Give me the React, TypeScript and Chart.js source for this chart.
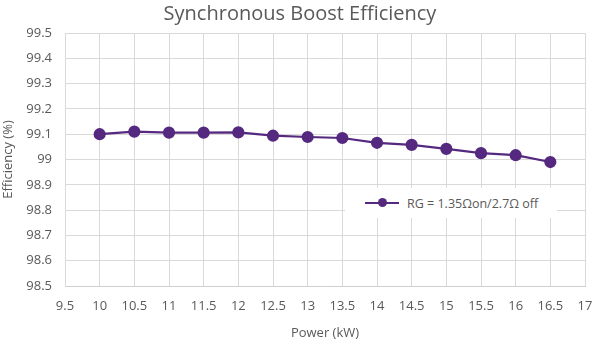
import React, { useEffect, useRef } from "react";
import { Chart, registerables } from "chart.js";

Chart.register(...registerables);

const powerKW = [10, 10.5, 11, 11.5, 12, 12.5, 13, 13.5, 14, 14.5, 15, 15.5, 16, 16.5];
const efficiency = [99.1, 99.11, 99.106, 99.106, 99.107, 99.094, 99.089, 99.085, 99.066, 99.058, 99.042, 99.025, 99.017, 98.99];
const seriesLabel = "RG = 1.35Ωon/2.7Ω off";
const titleText = "Synchronous Boost Efficiency";
const xTitle = "Power (kW)";
const yTitle = "Efficiency (%)";

const FONT = "'Open Sans', 'Liberation Sans', sans-serif";
const PURPLE = "#55297f";
const TEXT = "#595959";
const GRID = "#d9d9d9";

export default function App() {
  const ref = useRef<HTMLCanvasElement | null>(null);

  useEffect(() => {
    if (!ref.current) return;
    const chart = new Chart(ref.current, {
      type: "line",
      data: {
        datasets: [
          {
            label: seriesLabel,
            data: powerKW.map((x, i) => ({ x, y: efficiency[i] })),
            borderColor: PURPLE,
            backgroundColor: PURPLE,
            borderWidth: 2.2,
            pointRadius: 5,
            pointBackgroundColor: PURPLE,
            pointBorderColor: PURPLE,
            tension: 0,
          },
        ],
      },
      options: {
        responsive: false,
        animation: false,
        layout: { padding: { left: 0, right: 0, top: 0, bottom: 0 } },
        plugins: {
          legend: { display: false },
          tooltip: { enabled: false },
          title: {
            display: true,
            text: titleText,
            color: TEXT,
            font: { family: FONT, size: 20, weight: "normal" },
            padding: { top: 2, bottom: 7 },
          },
        },
        scales: {
          x: {
            type: "linear",
            min: 9.5,
            max: 17,
            ticks: {
              stepSize: 0.5,
              color: TEXT,
              font: { family: FONT, size: 13 },
              padding: 12,
              maxRotation: 0,
              callback: (v: any) => String(v),
            },
            grid: { color: GRID, drawTicks: false },
            border: { color: "#cfcfcf" },
            title: {
              display: true,
              text: xTitle,
              color: TEXT,
              font: { family: FONT, size: 13 },
              padding: { top: 4, bottom: 0 },
            },
            afterFit: (s: any) => {
              s.height = 55;
              s.paddingRight = 15;
            },
          },
          y: {
            min: 98.5,
            max: 99.5,
            ticks: {
              stepSize: 0.1,
              color: TEXT,
              font: { family: FONT, size: 13 },
              padding: 13,
              callback: (v: any) => String(Math.round(Number(v) * 10) / 10),
            },
            grid: { color: GRID, drawTicks: false },
            border: { color: GRID },
            title: {
              display: true,
              text: yTitle,
              color: TEXT,
              font: { family: FONT, size: 13 },
              padding: { top: 0, bottom: 0 },
            },
            afterFit: (s: any) => {
              s.width = 65;
            },
          },
        },
      },
    });
    return () => chart.destroy();
  }, []);

  return (
    <div style={{ position: "fixed", left: 0, top: 0, width: 600, height: 341, background: "#fff" }}>
      <canvas ref={ref} width={600} height={341} style={{ display: "block" }} />
      <div
        style={{
          position: "absolute",
          left: 345,
          top: 188,
          width: 212,
          height: 30,
          background: "#fff",
          display: "flex",
          alignItems: "center",
          fontFamily: FONT,
          fontSize: 12.5,
          color: TEXT,
        }}
      >
        <div style={{ position: "relative", width: 34, height: 10, marginLeft: 20, marginRight: 8 }}>
          <div style={{ position: "absolute", left: 0, right: 0, top: 4, height: 2.2, background: PURPLE }} />
          <div
            style={{
              position: "absolute",
              left: 13,
              top: 0,
              width: 9,
              height: 9,
              borderRadius: "50%",
              background: PURPLE,
            }}
          />
        </div>
        <span style={{ whiteSpace: "nowrap" }}>{seriesLabel}</span>
      </div>
    </div>
  );
}
